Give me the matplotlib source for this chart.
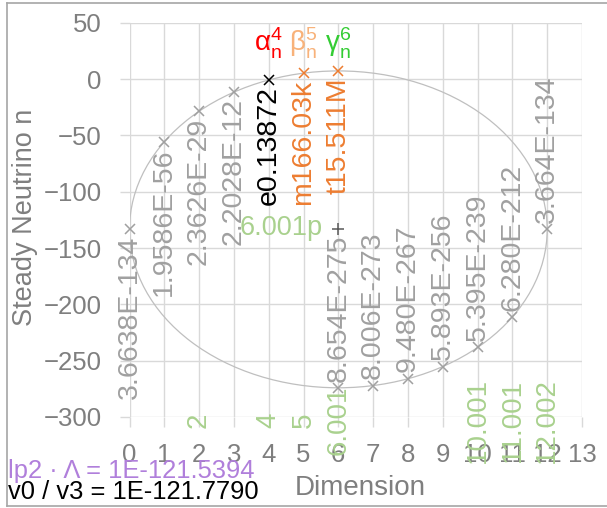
import matplotlib
matplotlib.use('Agg')
import matplotlib.pyplot as plt
from matplotlib.patches import Ellipse
from matplotlib.lines import Line2D

plt.rcParams['font.family'] = ['Liberation Sans', 'DejaVu Sans']
plt.rcParams['mathtext.fontset'] = 'custom'
plt.rcParams['mathtext.rm'] = 'Liberation Sans'
plt.rcParams['mathtext.it'] = 'Liberation Sans'
plt.rcParams['mathtext.bf'] = 'Liberation Sans'

# ---- data ----
dims = [0, 1, 2, 3, 4, 5, 6, 6, 7, 8, 9, 10, 11, 12]
values = [-133.436, -55.708, -28.627, -11.657, -0.858, 5.220, 7.191,
          -274.063, -272.097, -266.023, -255.230, -238.268, -211.202, -133.436]
point_labels = ['3.6638E-134', '1.9586E-56', '2.3626E-29', '2.2028E-12',
                'e0.13872', 'm166.03k', 't15.511M',
                '8.654E-275', '8.006E-273', '9.480E-267', '5.893E-256',
                '5.395E-239', '6.280E-212', '3.664E-134']
upper_arc = [True] * 7 + [False] * 7

center_dim = 6
center_val = -133.44
center_label = '6.001p'
ellipse_half_width = 6
ellipse_half_height = 140.63

greek_dims = [4, 5, 6]
greek_labels = [r'$\mathregular{\alpha_n^4}$', r'$\mathregular{\beta_n^5}$', r'$\mathregular{\gamma_n^6}$']
greek_colors = ['#ff0000', '#f8b27a', '#33cc33']
greek_level = 32

bottom_dims = [2, 4, 5, 6, 10, 11, 12]
bottom_labels = ['2', '4', '5', '6.001', '10.001', '11.001', '12.002']
bottom_level = -303

x_ticks = list(range(0, 14))
y_ticks = list(range(-300, 51, 50))

GRAY_LBL = '#a0a0a0'
ORANGE = '#ed7d31'
GREEN = '#a9d18e'
TICK = '#7f7f7f'
GRID = '#d9d9d9'

point_colors = [GRAY_LBL] * 4 + ['#000000', ORANGE, ORANGE] + [GRAY_LBL] * 7

fig = plt.figure(figsize=(6.07, 5.08), dpi=100)
ax = fig.add_axes([129.5 / 607, 1 - 417 / 508, 452.5 / 607, (417 - 22.7) / 508])
ax.set_xlim(0, 13)
ax.set_ylim(-300, 50)
ax.set_xticks(x_ticks)
ax.set_yticks(y_ticks)
ax.grid(True, color=GRID, lw=1, zorder=0)
ax.set_axisbelow(True)
for s in ax.spines.values():
    s.set_visible(False)
ax.tick_params(axis='both', colors=GRID, length=7, width=1, labelcolor=TICK, labelsize=18.5)
ax.tick_params(axis='y', pad=13)
ax.tick_params(axis='x', pad=12)

# ellipse
ell = Ellipse((center_dim, center_val), 2 * ellipse_half_width, 2 * ellipse_half_height,
              fill=False, ec='#bfbfbf', lw=0.9, zorder=1)
ax.add_patch(ell)

# points and labels
for d, v, lab, col, up in zip(dims, values, point_labels, point_colors, upper_arc):
    ax.plot([d], [v], marker='x', ms=7.5, mew=1.1, color=col, ls='none', zorder=3, clip_on=False)
    ax.annotate(lab, (d, v), xytext=(0, -4.5 if up else 4.5), textcoords='offset points',
                rotation=90, ha='center', va='top' if up else 'bottom',
                color=col, fontsize=20.5, zorder=4, annotation_clip=False)

# centre marker
ax.plot([center_dim], [center_val], marker='+', ms=8, mew=1.1, color='#595959', ls='none', zorder=3)
ax.annotate(center_label, (center_dim, center_val), xytext=(-11, 1), textcoords='offset points',
            ha='right', va='center', color=GREEN, fontsize=19.5, zorder=4)

# greek headers
for d, lab, col in zip(greek_dims, greek_labels, greek_colors):
    ax.text(d, greek_level, lab, color=col, fontsize=20, ha='center', va='center', zorder=4)

# bottom green labels
for d, lab in zip(bottom_dims, bottom_labels):
    ax.text(d, bottom_level, lab, color=GREEN, fontsize=20, rotation=90,
            ha='center', va='center', zorder=4, clip_on=False)

# axis titles
fig.text(25 / 607, 1 - 217.5 / 508, 'Steady Neutrino n', rotation=90, ha='center', va='center',
         color=TICK, fontsize=19.5)
fig.text(360 / 607, 1 - 488 / 508, 'Dimension', ha='center', va='center', color=TICK, fontsize=20)

# bottom-left annotations
fig.text(8 / 607, 1 - 478 / 508, 'lp2 · Λ = 1E-121.5394', ha='left', va='baseline',
         color='#b07fdb', fontsize=18.4)
fig.text(8 / 607, 1 - 499 / 508, 'v0 / v3 = 1E-121.7790', ha='left', va='baseline',
         color='#000000', fontsize=18.4)

# outer border
bc = '#a6a6a6'
fig.add_artist(Line2D([6.5 / 607, 6.5 / 607], [1 - 506 / 508, 1 - 3 / 508], color=bc, lw=1.2, transform=fig.transFigure))
fig.add_artist(Line2D([6.5 / 607, 1], [1 - 3 / 508, 1 - 3 / 508], color=bc, lw=1.2, transform=fig.transFigure))
fig.add_artist(Line2D([6.5 / 607, 1], [1 - 506 / 508, 1 - 506 / 508], color=bc, lw=1.2, transform=fig.transFigure))

fig.savefig('out.png', dpi=100)
